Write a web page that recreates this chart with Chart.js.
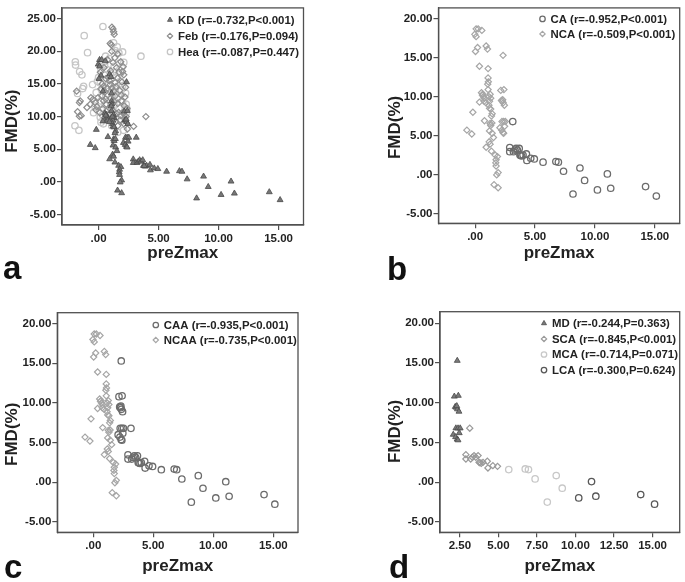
<!DOCTYPE html>
<html>
<head>
<meta charset="utf-8">
<script src="https://cdn.jsdelivr.net/npm/chart.js@4.4.0/dist/chart.umd.min.js"></script>
<style>
  body { margin: 0; background: #fff; }
  #wrap { position: relative; width: 685px; height: 582px; overflow: hidden; }
  canvas { position: absolute; }
  .tag { position: absolute; font: bold 33px "Liberation Sans", Arial, sans-serif; line-height: 33px; color: #111; }
</style>
</head>
<body>
<div id="wrap">
  <canvas id="chart-a" width="310" height="262" style="left:0;top:0"></canvas>
  <canvas id="chart-b" width="302" height="262" style="left:383px;top:0"></canvas>
  <canvas id="chart-c" width="310" height="285" style="left:0;top:290px"></canvas>
  <canvas id="chart-d" width="302" height="285" style="left:383px;top:290px"></canvas>
  <div class="tag" style="left:3px;top:251px">a</div>
  <div class="tag" style="left:387px;top:252px">b</div>
  <div class="tag" style="left:4px;top:550px">c</div>
  <div class="tag" style="left:389px;top:550px">d</div>
</div>
<script>
// KD sub groups (preZmax, FMD %)
const ncaaX = [0.08, 0.25, 0.56, -0.03, 0.08, 0.20, 0.03, 0.92, 1.03, 0.36, 1.08, 1.08, 1.10, 1.05, 1.08,
  0.53, 0.64, 0.69, 0.75, 0.36, 0.75, 1.25, 1.30, 1.20, 1.15, 1.20, 1.30, -0.19, 0.78, 1.42, 1.36,
  1.25, 1.30, -0.69, -0.28, 1.20, 1.42, 1.53, 1.17, 1.25, 0.92, 1.36, 1.67, 1.86, 1.75, 1.72, 1.75,
  1.92, 1.80, 1.58, 1.92, 0.60, 1.40, 1.15, 0.90];
const ncaaY = [18.7, 18.7, 18.5, 18.0, 17.7, 16.3, 15.8, 16.5, 16.1, 13.9, 13.6, 12.4, 11.9, 11.6, 10.9,
  10.5, 10.3, 10.0, 9.8, 9.3, 9.4, 10.3, 9.8, 9.4, 8.9, 8.5, 8.4, 8.0, 6.9, 7.8, 7.5,
  6.55, 6.3, 5.7, 5.2, 5.6, 5.3, 4.75, 4.2, 3.9, 3.5, 3.0, 2.5, 2.3, 1.9, 1.5, 1.1,
  0.25, -0.05, -1.3, -1.7, 10.2, 6.6, 10.0, 9.2];

const mdX = [2.33, 2.14, 2.40, 2.20, 2.27, 2.34, 2.44, 2.24, 2.38, 2.52, 2.07, 2.46, 2.22, 2.32, 2.38, 2.30];
const mdY = [15.3, 10.8, 10.9, 9.5, 9.4, 9.2, 8.9, 6.8, 6.8, 6.8, 6.0, 6.2, 5.7, 5.4, 5.3, 9.6];

const scaX = [3.14, 2.89, 2.89, 3.20, 3.31, 3.42, 3.53, 3.68, 3.74, 3.89, 4.00, 4.28, 4.32, 4.64, 4.94, 3.80];
const scaY = [6.8, 3.47, 2.93, 2.93, 3.14, 3.35, 3.14, 3.35, 2.5, 2.38, 2.5, 2.64, 1.8, 2.09, 2.0, 2.45];

const mcaX = [5.67, 6.74, 6.95, 7.38, 8.75, 8.17, 9.14];
const mcaY = [1.59, 1.67, 1.59, 0.42, 0.84, -2.5, -0.75];

const lcaX = [10.21, 11.04, 11.32, 14.23, 15.13];
const lcaY = [-1.97, 0.08, -1.76, -1.55, -2.76];

// febrile and healthy controls
const febX = [1.11, 1.20, 1.25, 1.30, 0.97, 1.06, -1.83, -1.53, -1.60, -1.75, -1.60, -1.45,
  -0.64, -0.47, -0.28, -0.69, -0.14, -0.22, -0.97, 3.94, 2.92, 0.19, 0.42, 0.55, 0.70,
  2.00, 2.05, 1.85, 2.10, 1.58, 1.39, 0.97, 1.11, 1.25, 1.39, 0.28, 0.42, 0.64, 2.14, 2.36, 1.67, 1.86,
  0.80, 0.90, 1.00, 1.20, 1.50, 1.70, 0.60, 0.30, 1.45, 1.75, 1.90, 2.20, 1.00, 1.30, 1.60, 0.90,
  1.20, 1.50, 2.00, 2.30, 0.80, 1.05, 1.40, 1.80, 2.10, 1.60, 0.50, 0.10, 0.35, -0.05, 0.60, 1.95,
  2.25, 0.15, 0.45, 1.35, 1.60, 0.75, 1.10, 1.90, 2.40];
const febY = [23.7, 23.4, 23.0, 22.6, 21.2, 21.0, 13.9, 12.4, 12.15, 10.75, 10.05, 10.15,
  12.9, 12.65, 12.15, 11.9, 11.55, 11.05, 11.4, 10.0, 8.5, 14.25, 14.65, 13.8, 14.3,
  16.9, 17.65, 18.4, 16.4, 15.9, 15.25, 14.9, 14.4, 13.9, 13.15, 13.15, 12.4, 11.9, 11.65, 11.25, 10.65, 10.15,
  16.0, 15.5, 17.0, 18.3, 17.5, 16.8, 15.8, 15.0, 14.6, 14.0, 13.3, 13.0, 12.8, 12.3, 12.0, 11.3,
  10.9, 10.4, 10.6, 10.0, 10.3, 9.6, 9.2, 9.5, 8.9, 8.6, 9.8, 10.6, 11.2, 12.9, 12.7, 15.3,
  14.5, 16.8, 17.5, 19.0, 19.6, 18.7, 20.0, 12.4, 8.1];

const heaX = [0.36, -1.20, -0.92, -1.94, -1.92, -1.58, -1.39, -1.25, -1.33, -1.75, 3.53, -1.97, -1.64,
  0.14, 0.20, 1.39, 1.69, 2.00, 0.58, 0.50, 0.45, 2.08, 2.36, 2.30, -0.42, 0.14, 0.00, 0.97, 0.70,
  0.30, 0.60, 0.80, 1.00, 1.20, 1.50, 1.80, 2.00, 1.40, 1.10, 0.90, 1.30, 1.70, 2.00, 0.50, 0.20,
  -0.20, -0.50, 0.70, 1.00, 1.40, 1.90, 2.20, 0.40, 1.10, 1.60, 1.75, 1.95, 1.30, 0.90, 1.55, 1.25,
  0.20, -0.10, 1.65, 2.25, 0.55, 1.85, 1.05, 0.35, 1.55, 2.10, 2.30, 1.90, 0.75, -0.30];
const heaY = [23.8, 22.4, 19.8, 18.4, 17.9, 16.9, 16.4, 14.65, 14.3, 13.55, 19.25, 8.6, 7.9,
  9.9, 9.15, 20.1, 19.75, 19.9, 19.25, 17.9, 18.4, 7.9, 11.2, 10.6, 10.6, 15.15, 16.0, 16.6, 17.2,
  14.0, 13.2, 14.8, 15.8, 16.3, 16.0, 15.4, 14.7, 14.2, 13.6, 12.6, 11.7, 11.3, 12.2, 11.8, 12.4,
  13.7, 14.9, 10.8, 10.2, 9.8, 9.3, 9.8, 8.9, 8.6, 7.6, 18.2, 17.6, 17.7, 18.9, 20.7, 21.3,
  17.3, 15.4, 13.1, 13.6, 16.4, 16.7, 11.2, 10.3, 12.7, 18.3, 11.9, 14.1, 9.5, 11.6];

const labelsA = ['KD (r=-0.732,P<0.001)', 'Feb (r=-0.176,P=0.094)', 'Hea (r=-0.087,P=0.447)'];
const labelsB = ['CA (r=-0.952,P<0.001)', 'NCA (r=-0.509,P<0.001)'];
const labelsC = ['CAA (r=-0.935,P<0.001)', 'NCAA (r=-0.735,P<0.001)'];
const labelsD = ['MD (r=-0.244,P=0.363)', 'SCA (r=-0.845,P<0.001)', 'MCA (r=-0.714,P=0.071)', 'LCA (r=-0.300,P=0.624)'];

const xTicksABC = [0, 5, 10, 15];
const xTicksD = [2.5, 5, 7.5, 10, 12.5, 15];
const yTicksA = [-5, 0, 5, 10, 15, 20, 25];
const yTicksBCD = [-5, 0, 5, 10, 15, 20];

const FONT = '"Liberation Sans", Arial, sans-serif';
const INK = '#222';
const FRAME = '#505050';

const pts = (xs, ys) => xs.map((x, i) => ({ x: x, y: ys[i] }));
const fmt = v => { const s = Number(v).toFixed(2); return s.replace(/^(-?)0\./, '$1.'); };

// marker looks
const triangle = c => ({ pointStyle: 'triangle', pointRadius: 3.4, backgroundColor: c, borderColor: '#4a4a4a', borderWidth: 0.8 });
const diamond = c => ({ pointStyle: 'rectRot', pointRadius: 3.1, backgroundColor: 'rgba(0,0,0,0)', borderColor: c, borderWidth: 1.2 });
const ring = c => ({ pointStyle: 'circle', pointRadius: 3.2, backgroundColor: 'rgba(0,0,0,0)', borderColor: c, borderWidth: 1.3 });

// legend + frame drawn inside the plot box
const innerLegend = {
  id: 'innerLegend',
  afterDatasetsDraw(chart, args, opts) {
    const { ctx, chartArea: a } = chart;
    ctx.save();
    ctx.strokeStyle = FRAME;
    ctx.lineWidth = 1.3;
    ctx.strokeRect(a.left, a.top, a.right - a.left, a.bottom - a.top);
    ctx.font = 'bold 11.4px ' + FONT;
    ctx.textBaseline = 'middle';
    chart.data.datasets.forEach((ds, i) => {
      const mx = a.left + opts.left;
      const my = a.top + opts.top + i * opts.gap;
      ctx.fillStyle = ds.backgroundColor;
      ctx.strokeStyle = ds.borderColor;
      ctx.lineWidth = ds.borderWidth;
      Chart.helpers.drawPoint(ctx, { pointStyle: ds.pointStyle, radius: ds.pointRadius * 0.85, rotation: 0, borderWidth: ds.borderWidth }, mx, my);
      ctx.fillStyle = INK;
      ctx.fillText(ds.label, mx + 8, my + 0.5);
    });
    ctx.restore();
  }
};

function makeChart(id, datasets, cfg) {
  const tickFont = { family: FONT, size: 11.5, weight: 'bold' };
  const titleFont = { family: FONT, size: 17, weight: 'bold' };
  return new Chart(document.getElementById(id).getContext('2d'), {
    type: 'scatter',
    data: { datasets: datasets },
    options: {
      responsive: false,
      animation: false,
      layout: { padding: { top: cfg.padTop, right: cfg.padRight, left: 0, bottom: 0 } },
      scales: {
        x: {
          min: cfg.xMin, max: cfg.xMax,
          afterBuildTicks: s => { s.ticks = cfg.xTicks.map(v => ({ value: v })); },
          afterFit: s => { s.height = cfg.xHeight; },
          ticks: { color: INK, font: tickFont, padding: 2, autoSkip: false, maxRotation: 0, callback: fmt },
          grid: { drawOnChartArea: false, drawTicks: true, tickLength: 5, color: FRAME, lineWidth: 1.2 },
          border: { color: FRAME, width: 1.3 },
          title: { display: true, text: 'preZmax', color: INK, font: titleFont, padding: { top: 0, bottom: -1.5 } }
        },
        y: {
          min: cfg.yMin, max: cfg.yMax,
          afterBuildTicks: s => { s.ticks = cfg.yTicks.map(v => ({ value: v })); },
          afterFit: s => { s.width = cfg.yWidth; },
          ticks: { color: INK, font: tickFont, padding: 1, autoSkip: false, callback: fmt },
          grid: { drawOnChartArea: false, drawTicks: true, tickLength: 5, color: FRAME, lineWidth: 1.2 },
          border: { color: FRAME, width: 1.3 },
          // trailing spaces push the label a little below the axis middle, as in the figure
          title: { display: true, text: 'FMD(%)' + cfg.yPad, color: INK, font: titleFont, padding: { top: 2, bottom: 0 } }
        }
      },
      plugins: {
        legend: { display: false },
        tooltip: { enabled: false },
        innerLegend: cfg.legend
      }
    },
    plugins: [innerLegend]
  });
}

// a: KD vs febrile vs healthy
makeChart('chart-a', [
  Object.assign({ label: labelsA[0], data: pts(ncaaX.concat(mdX, scaX, mcaX, lcaX), ncaaY.concat(mdY, scaY, mcaY, lcaY)) }, triangle('#777777')),
  Object.assign({ label: labelsA[1], data: pts(febX, febY) }, diamond('#8e8e8e')),
  Object.assign({ label: labelsA[2], data: pts(heaX, heaY) }, ring('#c6c6c6'))
], { xMin: -3.05, xMax: 17.08, yMin: -6.6, yMax: 26.65, xTicks: xTicksABC, yTicks: yTicksA, yPad: '  ',
     padTop: 4, padRight: 6.5, yWidth: 62, xHeight: 37, legend: { left: 108, top: 12, gap: 16 } });

// b: CA vs NCA
makeChart('chart-b', [
  Object.assign({ label: labelsB[0], data: pts(scaX.concat(mcaX, lcaX), scaY.concat(mcaY, lcaY)) }, ring('#6c6c6c')),
  Object.assign({ label: labelsB[1], data: pts(ncaaX.concat(mdX), ncaaY.concat(mdY)) }, diamond('#a6a6a6'))
], { xMin: -3.06, xMax: 17.08, yMin: -6.26, yMax: 21.39, xTicks: xTicksABC, yTicks: yTicksBCD, yPad: '     ',
     padTop: 4, padRight: 5, yWidth: 55.5, xHeight: 38.7, legend: { left: 104, top: 11, gap: 15 } });

// c: CAA vs NCAA
makeChart('chart-c', [
  Object.assign({ label: labelsC[0], data: pts(mdX.concat(scaX, mcaX, lcaX), mdY.concat(scaY, mcaY, lcaY)) }, ring('#6c6c6c')),
  Object.assign({ label: labelsC[1], data: pts(ncaaX, ncaaY) }, diamond('#a6a6a6'))
], { xMin: -3.0, xMax: 17.06, yMin: -6.3, yMax: 21.38, xTicks: xTicksABC, yTicks: yTicksBCD, yPad: '     ',
     padTop: 22.7, padRight: 12, yWidth: 57.3, xHeight: 42.7, legend: { left: 98.5, top: 12.3, gap: 15 } });

// d: CAA by aneurysm size
makeChart('chart-d', [
  Object.assign({ label: labelsD[0], data: pts(mdX, mdY) }, triangle('#7a7a7a')),
  Object.assign({ label: labelsD[1], data: pts(scaX, scaY) }, diamond('#9a9a9a')),
  Object.assign({ label: labelsD[2], data: pts(mcaX, mcaY) }, ring('#c8c8c8')),
  Object.assign({ label: labelsD[3], data: pts(lcaX, lcaY) }, ring('#585858'))
], { xMin: 1.21, xMax: 16.76, yMin: -6.3, yMax: 21.46, xTicks: xTicksD, yTicks: yTicksBCD, yPad: '    ',
     padTop: 21.7, padRight: 3.3, yWidth: 57, xHeight: 42.7, legend: { left: 104, top: 11.6, gap: 15.6 } });
</script>
</body>
</html>
